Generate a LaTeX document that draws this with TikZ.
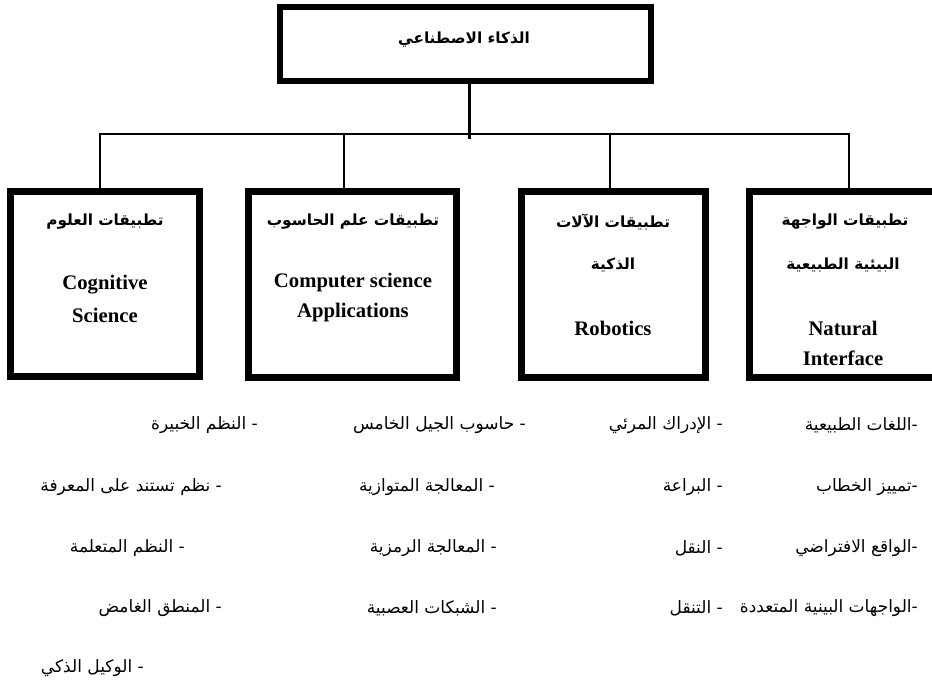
\documentclass[tikz,border=0pt]{standalone}
\usepackage{fontspec}
\setmainfont{Liberation Serif}
\newfontfamily\arabicfont[Script=Arabic]{DejaVu Sans}
\TeXXeTstate=1
\newcommand{\ar}[1]{{\arabicfont\beginR #1\endR}}
\begin{document}
\begin{tikzpicture}[x=1pt,y=-1pt,
  box/.style={draw, line width=7pt, inner sep=0pt, fill=white},
  conn/.style={draw, line width=1.6pt},
  ttl/.style={font=\fontsize{15.3}{18}\selectfont\bfseries, inner sep=0pt},
  en/.style={font=\fontsize{20.7}{24}\selectfont\bfseries, inner sep=0pt},
  item/.style={font=\fontsize{17}{20}\selectfont, inner sep=0pt, anchor=east}]
\useasboundingbox (0,0) rectangle (932,685);
\clip (0,0) rectangle (932,685);
\fill[white] (0,0) rectangle (932,685);
% boxes
\node[box, line width=6pt, minimum width=371pt, minimum height=74pt] (top) at (465.5,44) {};
\node[box, minimum width=188.5pt, minimum height=185pt] (b1) at (104.75,284) {};
\node[box, minimum width=208pt, minimum height=186.5pt] (b2) at (352.5,284.25) {};
\node[box, minimum width=184pt, minimum height=186pt] (b3) at (613,284.5) {};
\node[box, minimum width=199pt, minimum height=186pt] (b4) at (849,284.5) {};
% connectors
\coordinate (hub) at (469,134);
\draw[line width=3pt] ([xshift=3.5pt]top.south) -- ([yshift=-5pt]hub);
\draw[conn] ([xshift=-4.75pt]b1.north) |- (hub);
\draw[conn] (hub) -| (b4.north);
\draw[conn] ([xshift=-8.5pt]b2.north) -- ([xshift=-8.5pt]b2.north |- hub);
\draw[conn] ([xshift=-3pt]b3.north) -- ([xshift=-3pt]b3.north |- hub);
% titles
\node[ttl] (t0) at (464,40) {\ar{الذكاء الاصطناعي}};
\node[ttl] (t1) at (105,222) {\ar{تطبيقات العلوم}};
\node[ttl] (t2) at (353,222) {\ar{تطبيقات علم الحاسوب}};
\node[ttl] (t3a) at (613,222) {\ar{تطبيقات الآلات}};
\node[ttl] (t3b) at (613,265) {\ar{الذكية}};
\node[ttl] (t4a) at (845,222) {\ar{تطبيقات الواجهة}};
\node[ttl] (t4b) at (843,265) {\ar{البيئية الطبيعية}};
\node[en] (e1a) at (105,285) {Cognitive};
\node[en] (e1b) at (105,315) {Science};
\node[en] (e2a) at (353,283) {Computer science};
\node[en] (e2b) at (353,313) {Applications};
\node[en] (e3) at (613,328) {Robotics};
\node[en] (e4a) at (843,328) {Natural};
\node[en] (e4b) at (843,358) {Interface};
% lists
\node[item] (l11) at (258,425) {\ar{- النظم الخبيرة}};
\node[item] (l12) at (222,487) {\ar{- نظم تستند على المعرفة}};
\node[item] (l13) at (185,548) {\ar{- النظم المتعلمة}};
\node[item] (l14) at (222,608) {\ar{- المنطق الغامض}};
\node[item] (l15) at (144,668) {\ar{- الوكيل الذكي}};
\node[item] (l21) at (526,425) {\ar{- حاسوب  الجيل الخامس}};
\node[item] (l22) at (495,487) {\ar{- المعالجة المتوازية}};
\node[item] (l23) at (497,548) {\ar{- المعالجة الرمزية}};
\node[item] (l24) at (497,608) {\ar{- الشبكات العصبية}};
\node[item] (l31) at (723,425) {\ar{- الإدراك المرئي}};
\node[item] (l32) at (723,487) {\ar{- البراعة}};
\node[item] (l33) at (723,548) {\ar{- النقل}};
\node[item] (l34) at (723,608) {\ar{- التنقل}};
\node[item] (l41) at (918,425) {\ar{-اللغات الطبيعية}};
\node[item] (l42) at (918,487) {\ar{-تمييز الخطاب}};
\node[item] (l43) at (918,548) {\ar{-الواقع الافتراضي}};
\node[item] (l44) at (918,608) {\ar{-الواجهات البينية المتعددة}};
\end{tikzpicture}
\end{document}
